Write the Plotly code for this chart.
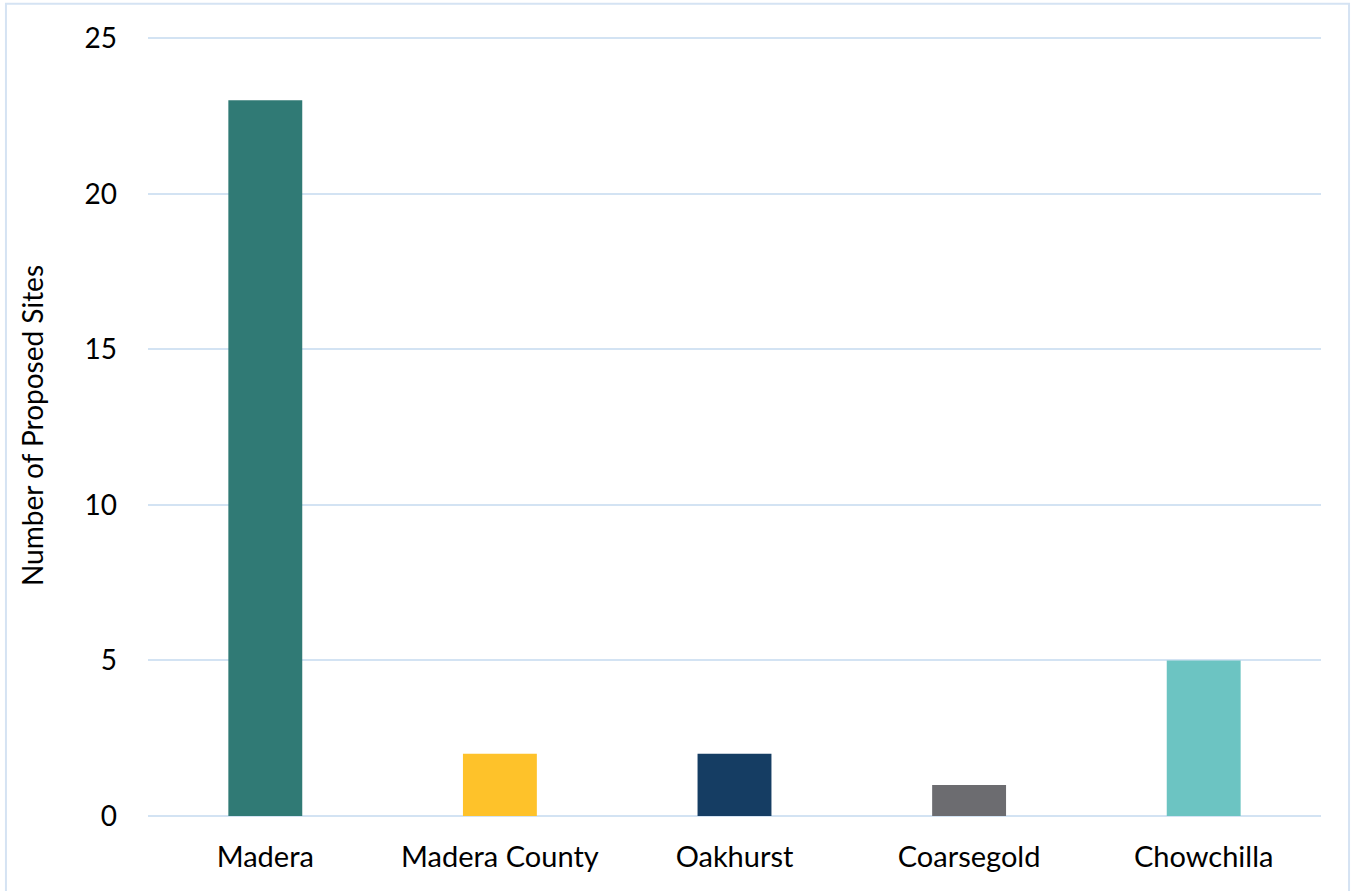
import plotly.graph_objects as go

categories = ["Madera", "Madera County", "Oakhurst", "Coarsegold", "Chowchilla"]
values = [23, 2, 2, 1, 5]
colors = ["#307A75", "#FEC22A", "#153D63", "#6C6C70", "#6CC4C2"]
y_ticks = [0, 5, 10, 15, 20, 25]

FONT = "Lato"
GRID = "#D3E3F3"

fig = go.Figure(
    go.Bar(x=categories, y=values, marker=dict(color=colors, line=dict(width=0)),
           hoverinfo="x+y")
)

fig.update_layout(
    width=1351, height=891,
    margin=dict(l=148, r=30, t=35, b=75),
    paper_bgcolor="white", plot_bgcolor="white",
    bargap=0.685,
    showlegend=False,
    font=dict(family=FONT, size=29, color="#000000"),
    shapes=[dict(type="rect", xref="paper", yref="paper",
                 x0=-0.1211, x1=1.0239, y0=-0.12, y1=1.04,
                 line=dict(color="#D5E3F3", width=2), layer="below")],
)
fig.update_xaxes(
    showgrid=False, showline=False, zeroline=False,
    tickfont=dict(family=FONT, size=29), ticklabelstandoff=21,
)
fig.update_yaxes(
    range=[0, 25.1], tickvals=y_ticks, showgrid=True, gridcolor=GRID, gridwidth=2,
    zeroline=True, zerolinecolor=GRID, zerolinewidth=2, showline=False,
    tickfont=dict(family=FONT, size=28), ticklabelstandoff=30,
    title=dict(text="Number of Proposed Sites", font=dict(family=FONT, size=28), standoff=32),
)

fig.write_html("out.html")
